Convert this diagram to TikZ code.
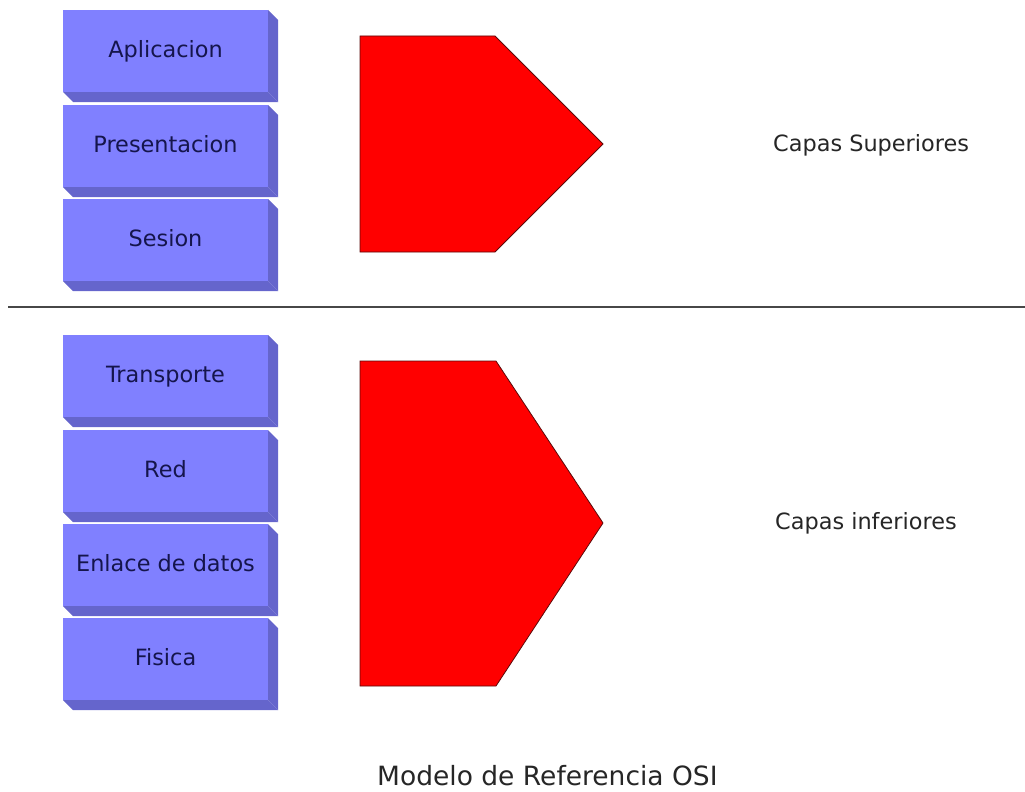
\documentclass[tikz,border=0pt]{standalone}
\usepackage{fontspec}
\setmainfont{DejaVu Sans}
\usepackage{tikz}
\usetikzlibrary{positioning}

\definecolor{layerface}{HTML}{8080FF}
\definecolor{layerside}{HTML}{6565CC}
\definecolor{layertext}{HTML}{15154C}
\definecolor{blockred}{HTML}{FF0000}
\definecolor{blockedge}{HTML}{5A0A0A}
\definecolor{labeltext}{HTML}{262626}

\tikzset{
    face/.style={fill=layerface, draw=none},
    side/.style={fill=layerside, draw=none},
    layername/.style={anchor=base, text=layertext, font=\fontsize{22.4}{26}\selectfont, inner sep=0pt},
    block/.style={fill=blockred, draw=blockedge, line width=0.8pt, line join=miter},
    caption/.style={anchor=base west, text=labeltext, font=\fontsize{22.4}{26}\selectfont, inner sep=0pt}
}

\begin{document}
\begin{tikzpicture}[x=1pt, y=-1pt]
    \useasboundingbox (0,0) rectangle (1025,792);

    % Layers
    \foreach \name/\top/\txt in {apl/10/Aplicacion, pre/105/Presentacion, ses/199/Sesion,
                                 tra/335/Transporte, red/430/Red, enl/524/Enlace de datos, fis/618/Fisica} {
        \fill[face] (63,\top) rectangle (268,\top+82);
        \fill[side] (268,\top) -- (278,\top+10) -- (278,\top+92) -- (268,\top+82) -- cycle;
        \fill[side] (63,\top+82) -- (268,\top+82) -- (278,\top+92) -- (73,\top+92) -- cycle;
        \node[layername] (\name) at (165.5,\top+47.5) {\txt};
    }

    % Separator
    \draw[color=black!72, line width=2pt] (8,306.5) -- (1025,306.5);

    % Blocks
    \draw[block] (360,36) -- (495,36) -- (603,144) -- (495,252) -- (360,252) -- cycle;
    \draw[block] (360,361) -- (496,361) -- (603,523) -- (496,686) -- (360,686) -- cycle;

    % Labels
    \node[caption] (sup) at (773,151) {Capas Superiores};
    \node[caption] (inf) at (775,529) {Capas inferiores};
    \node[caption, font=\fontsize{26.5}{31}\selectfont] (osi) at (377,785) {Modelo de Referencia OSI};

\end{tikzpicture}
\end{document}
